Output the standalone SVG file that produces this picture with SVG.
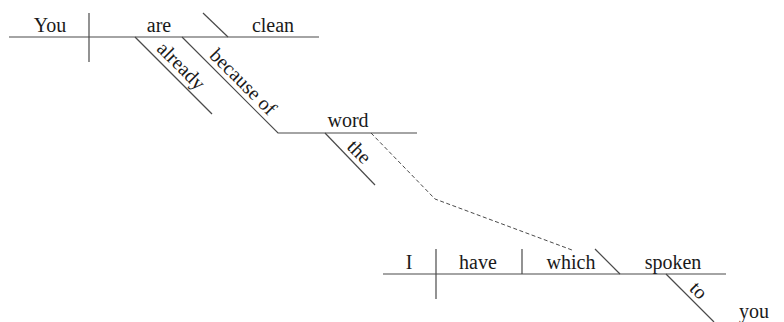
<svg xmlns="http://www.w3.org/2000/svg" width="784" height="322" viewBox="0 0 784 322">
<style>
.ln{stroke:#4a4a4a;stroke-width:1.2;fill:none}
.dash{stroke:#4a4a4a;stroke-width:1;fill:none;stroke-dasharray:4 2.5}
text{font-family:"Liberation Serif","Times New Roman",serif;font-size:20px;fill:#1a1a1a;text-anchor:middle}
</style>
<rect width="784" height="322" fill="#fff"/>
<g id="main-clause">
<line class="ln" x1="9" y1="37" x2="319" y2="37"/>
<line class="ln" x1="89" y1="13" x2="89" y2="62"/>
<line class="ln" x1="203" y1="13" x2="228" y2="37"/>
</g>
<g id="you"><text x="50" y="32">You</text></g>
<g id="are"><text x="159" y="32">are</text></g>
<g id="clean"><text x="273" y="32">clean</text></g>
<g id="already">
<line class="ln" x1="135" y1="37" x2="212" y2="114"/>
<text transform="translate(173,74) rotate(45)" y="-5">already</text>
</g>
<g id="because-of">
<polyline class="ln" points="182,37 278,133 417,133"/>
<text transform="translate(235,90) rotate(45)" y="-5">because of</text>
</g>
<g id="word"><text x="348" y="127">word</text></g>
<g id="the">
<line class="ln" x1="325" y1="133" x2="375" y2="185"/>
<text transform="translate(351,160) rotate(45)" y="-5">the</text>
</g>
<g id="relative-clause">
<line class="ln" x1="383" y1="274" x2="726" y2="274"/>
<line class="ln" x1="436" y1="249" x2="436" y2="299"/>
<line class="ln" x1="522" y1="249" x2="522" y2="274"/>
<line class="ln" x1="595" y1="249" x2="620" y2="274"/>
</g>
<g id="I"><text x="409" y="269">I</text></g>
<g id="have"><text x="478" y="269">have</text></g>
<g id="which"><text x="571" y="269">which</text></g>
<g id="spoken"><text x="673" y="269">spoken</text></g>
<g id="to">
<line class="ln" x1="666" y1="274" x2="714" y2="322"/>
<text transform="translate(690.5,298.5) rotate(45)" y="-5">to</text>
</g>
<g id="you2"><text x="754" y="318">you</text></g>
<g id="connectors">
<polyline class="dash" points="371,133 435,199 572,250"/>
</g>
</svg>
